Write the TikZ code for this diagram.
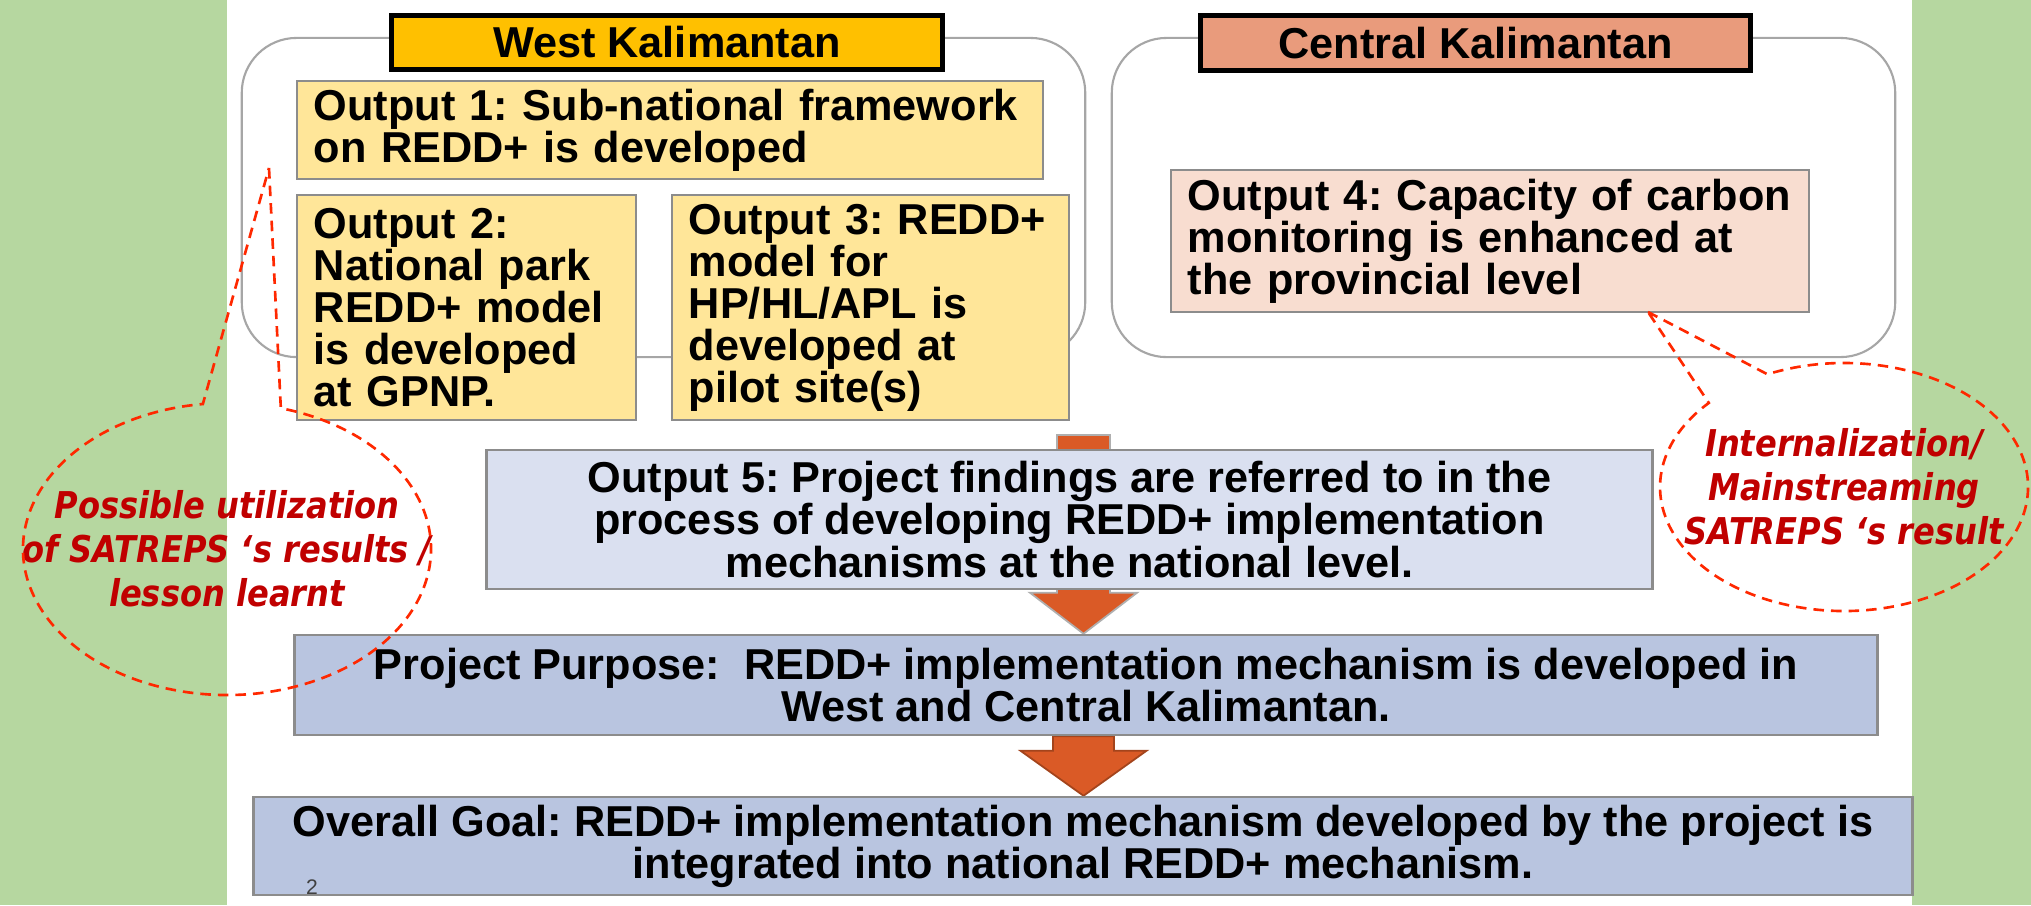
\documentclass[tikz,border=0pt]{standalone}
\usepackage{fontspec}
\setmainfont{Liberation Sans}
\newfontfamily\notefont{DejaVu Sans}[FakeStretch=0.87]
\usepackage{tikz}
\usetikzlibrary{calc,backgrounds}

\definecolor{sidegreen}{RGB}{182,215,160}
\definecolor{westgold}{RGB}{255,192,0}
\definecolor{centralsalmon}{RGB}{233,155,124}
\definecolor{westfill}{RGB}{255,230,153}
\definecolor{centralfill}{RGB}{248,221,208}
\definecolor{nationalfill}{RGB}{218,224,240}
\definecolor{purposefill}{RGB}{185,197,224}
\definecolor{arroworange}{RGB}{218,90,38}
\definecolor{notered}{RGB}{192,0,0}
\definecolor{dashred}{RGB}{255,40,0}
\definecolor{boxgray}{RGB}{140,140,140}
\definecolor{framegray}{RGB}{166,166,166}

\newcommand{\boxfont}{\fontsize{12.3pt}{11.95pt}\selectfont\bfseries}
\newcommand{\notesize}{\fontsize{10.5pt}{12.5pt}\selectfont}

\begin{document}
\frenchspacing
\begin{tikzpicture}[x=0.01cm, y=-0.01cm,
  frame/.style={draw=framegray, line width=0.6pt, fill=white, rounded corners=15.6pt},
  regionlabel/.style={draw=black, line width=1.4pt, font=\boxfont, inner sep=0pt},
  outbox/.style={draw=boxgray, line width=0.7pt, font=\boxfont, align=left, inner xsep=0.17cm, inner ysep=0pt},
  nationbox/.style={draw=boxgray, line width=0.7pt, font=\boxfont, align=center, inner sep=0pt},
  fatarrow/.style={fill=arroworange, draw=boxgray!70, line width=0.5pt},
  notetext/.style={font=\notefont\bfseries\itshape\notesize, text=notered, align=center, inner sep=0pt},
  calloutline/.style={draw=dashred, line width=0.75pt, dash pattern=on 3pt off 2pt}]
  \useasboundingbox (0,0) rectangle (2031,905);
  \fill[sidegreen] (0,0) rectangle (227,905);
  \fill[sidegreen] (1912,0) rectangle (2031,905);

  % province frames and titles
  \node[frame, minimum width=8.43cm, minimum height=3.19cm] (westframe) at (663.5,197.5) {};
  \node[frame, minimum width=7.83cm, minimum height=3.19cm] (centralframe) at (1503.5,197.5) {};
  \node[regionlabel, fill=westgold, minimum width=5.51cm, minimum height=0.54cm] (westlabel) at (667,42.5) {West Kalimantan};
  \node[regionlabel, fill=centralsalmon, minimum width=5.50cm, minimum height=0.55cm] (centrallabel) at (1475.5,43) {Central Kalimantan};

  % outputs
  \node[outbox, fill=westfill, text width=7.12cm, minimum height=0.98cm] (out1) at (670,130) {Output 1: Sub-national framework\\on REDD+ is developed};
  \node[outbox, fill=westfill, text width=3.05cm, minimum height=2.25cm] (out2) at (466.5,307.5) {Output 2:\\National park\\REDD+ model\\is developed\\at GPNP.};
  \node[outbox, fill=westfill, text width=3.63cm, minimum height=2.25cm] (out3) at (870.5,307.5) {Output 3: REDD+\\model for\\HP/HL/APL is\\developed at\\pilot site(s)};
  \node[outbox, fill=centralfill, text width=6.04cm, minimum height=1.42cm] (out4) at (1490,241) {Output 4: Capacity of carbon\\monitoring is enhanced at\\the provincial level};
  \node[nationbox, fill=nationalfill, minimum width=11.65cm, minimum height=1.39cm] (out5) at (1069.5,519.5) {Output 5: Project findings are referred to in the\\process of developing REDD+ implementation\\mechanisms at the national level.};
  \node[nationbox, fill=purposefill, minimum width=15.82cm, minimum height=1.00cm] (pp) at (1086,685) {Project Purpose:~ REDD+ implementation mechanism is developed in\\West and Central Kalimantan.};
  \node[nationbox, fill=purposefill, minimum width=16.58cm, minimum height=0.98cm] (goal) at (1083,846) {Overall Goal: REDD+ implementation mechanism developed by the project is\\integrated into national REDD+ mechanism.};
  \node[font=\fontsize{6pt}{7pt}\selectfont, text=black!75] (pagenum) at (312,887) {2};

  % block arrows
  \begin{scope}[on background layer]
    \coordinate (a1top) at (1083.5,435);
    \coordinate (a1tip) at (pp.north -| a1top);
    \coordinate (a2top) at (pp.south -| a1top);
    \coordinate (a2tip) at (goal.north -| a1top);
    \draw[fatarrow] ($(a1top)+(-26.5,0)$) -- ($(a1tip)+(-26.5,-41)$) -- ($(a1tip)+(-53.5,-41)$) -- (a1tip) -- ($(a1tip)+(53.5,-41)$) -- ($(a1tip)+(26.5,-41)$) -- ($(a1top)+(26.5,0)$) -- cycle;
    \draw[fatarrow, draw=arroworange!75!black] ($(a2top)+(-30.5,0)$) -- ($(a2tip)+(-30.5,-45)$) -- ($(a2tip)+(-63,-45)$) -- (a2tip) -- ($(a2tip)+(63,-45)$) -- ($(a2tip)+(30.5,-45)$) -- ($(a2top)+(30.5,0)$) -- cycle;
  \end{scope}

  % callouts
  \coordinate (westtip) at (269,168);
  \node[notetext] (westnote) at (227,549) {Possible utilization\\of SATREPS ‘s results /\\lesson learnt};
  \draw[calloutline] (westtip) -- ($(westnote.center)+(285.3:204 and 146)$) arc[start angle=285.3, end angle=623.2, x radius=204, y radius=146] -- cycle;
  \coordinate (centraltip) at (1648,312);
  \node[notetext] (centralnote) at (1844,487) {Internalization/\\Mainstreaming\\SATREPS ‘s result};
  \draw[calloutline] (centraltip) -- ($(centralnote.center)+(245.4:184 and 124)$) arc[start angle=245.4, end angle=582.7, x radius=184, y radius=124] -- cycle;
\end{tikzpicture}
\end{document}
